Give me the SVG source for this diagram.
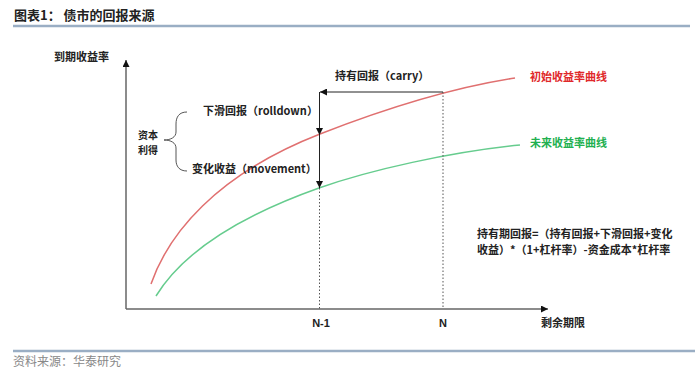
<svg xmlns="http://www.w3.org/2000/svg" width="700" height="375" viewBox="0 0 700 375">
<style>
text{font-family:"Noto Sans CJK SC","Liberation Sans",sans-serif;font-size:11px;font-weight:bold;fill:#222}
.lat{font-family:"Liberation Sans","Noto Sans CJK SC",sans-serif}
.rule{stroke:#9AAEC4;stroke-width:2.5}
.axis{stroke:#666;stroke-width:1.5;fill:none}
.dot{stroke:#555;stroke-width:1;stroke-dasharray:1.5 2;fill:none}
.arr{stroke:#222;stroke-width:1;fill:none}
</style>
<defs>
<marker id="ah" viewBox="0 0 8 8" refX="8" refY="4" markerWidth="7" markerHeight="7" markerUnits="userSpaceOnUse" orient="auto">
<path d="M0,0 L8,4 L0,8 Z" fill="#111"/>
</marker>
</defs>
<rect width="700" height="375" fill="#fff"/>
<g id="title">
<text x="14" y="20" style="font-size:13px">图表1： 债市的回报来源</text>
<line class="rule" x1="13" y1="26" x2="690" y2="26"/>
</g>
<g id="axes">
<path class="axis" d="M126,309 V60" marker-end="url(#ah)"/>
<path class="axis" d="M126,309 H548" marker-end="url(#ah)"/>
<text x="54" y="61">到期收益率</text>
<text x="541" y="327">剩余期限</text>
<text class="lat" x="321" y="327" text-anchor="middle">N-1</text>
<text class="lat" x="443" y="327" text-anchor="middle">N</text>
</g>
<g id="curve-initial">
<path d="M151,284 C168,235 215,175 320,134 C380,110.6 450,88 515,78" fill="none" stroke="#E07070" stroke-width="1.5"/>
<text x="530" y="81" style="fill:#E0282A">初始收益率曲线</text>
</g>
<g id="curve-future">
<path d="M156,296 C175,265 215,225 319,188 C370,170 450,152 520,145" fill="none" stroke="#66CC8E" stroke-width="1.5"/>
<text x="530" y="147" style="fill:#22B050">未来收益率曲线</text>
</g>
<g id="connectors">
<path class="dot" d="M319.5,188 V309"/>
<path class="dot" d="M443,92 V309"/>
<path class="arr" d="M443,92 H320" marker-end="url(#ah)"/>
<path class="arr" d="M319.5,92 V135" marker-end="url(#ah)"/>
<path class="arr" d="M319.5,135 V188" marker-end="url(#ah)"/>
<path d="M187,112 C179,112 176,117 176,124 V132 C176,137 171,140 164,140 C171,140 176,143 176,148 V160 C176,166 179,171 187,171" fill="none" stroke="#555" stroke-width="1"/>
</g>
<g id="label-carry"><text x="335" y="80">持有回报（carry）</text></g>
<g id="label-rolldown"><text x="203" y="115">下滑回报（rolldown）</text></g>
<g id="label-movement"><text x="192" y="173">变化收益（movement）</text></g>
<g id="label-capital">
<text x="138" y="139" style="font-size:10px">资本</text>
<text x="138" y="154" style="font-size:10px">利得</text>
</g>
<g id="formula">
<text x="477" y="238">持有期回报=（持有回报+下滑回报+变化</text>
<text x="477" y="254">收益）*（1+杠杆率）-资金成本*杠杆率</text>
</g>
<g id="footer">
<line class="rule" x1="13" y1="351" x2="695" y2="351"/>
<text x="13" y="366" style="font-size:12px;font-weight:normal;fill:#888">资料来源：华泰研究</text>
</g>
</svg>
